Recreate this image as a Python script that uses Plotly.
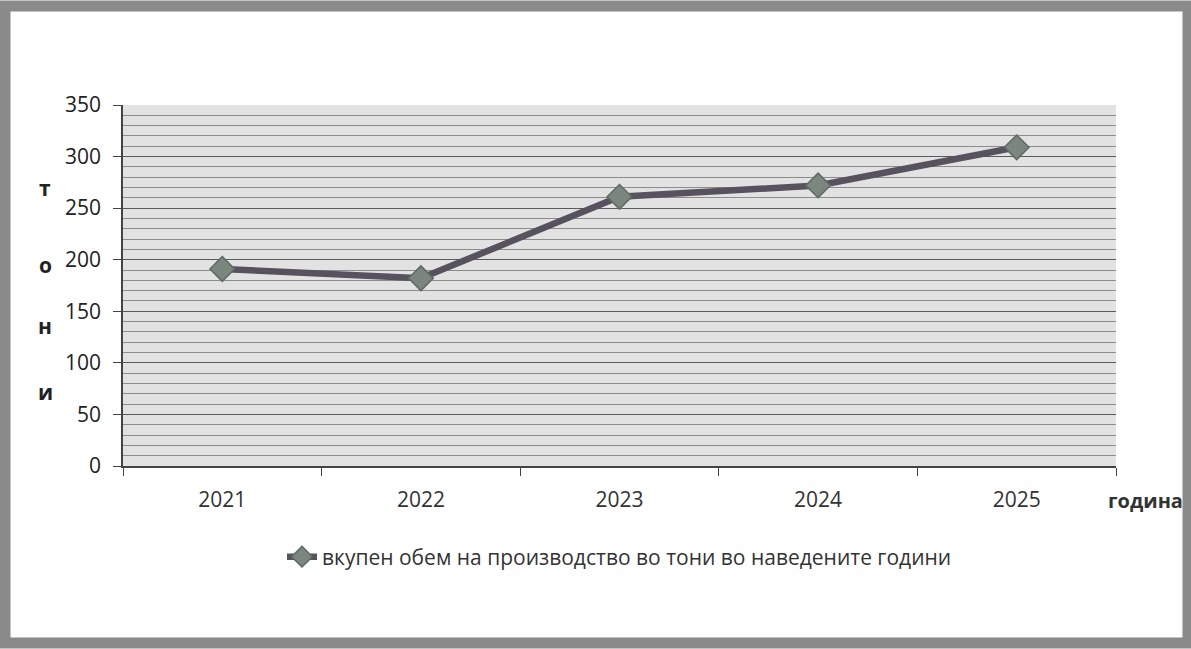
import plotly.graph_objects as go

years = ["2021", "2022", "2023", "2024", "2025"]
tonnes = [191, 182, 261, 272, 309]
series_name = "вкупен обем на производство во тони во наведените години"
y_letters = ["т", "о", "н", "и"]
y_letter_vals = [270, 195, 136, 72]
x_title = "година"

W, H = 1191, 649
L, R, T, B = 123, 75, 105, 183
pw, ph = W - L - R, H - T - B

def px_x(p):
    return (p - L) / pw

def px_y(p):
    return (H - B - p) / ph

font = "Open Sans, Liberation Sans, sans-serif"

fig = go.Figure()
fig.add_trace(go.Scatter(
    x=years, y=tonnes, mode="lines+markers", name=series_name,
    line=dict(color="#56525e", width=6.5),
    marker=dict(symbol="diamond", size=19, color="#7b867e",
                line=dict(color="#5f6a62", width=1.5)),
))

annotations = []
for letter, v in zip(y_letters, y_letter_vals):
    annotations.append(dict(x=px_x(45), y=v, xref="paper", yref="y", text=f"<b>{letter}</b>",
                            xanchor="center", yanchor="middle",
                            showarrow=False, font=dict(size=21, color="#222", family=font)))
annotations.append(dict(x=px_x(1145), y=px_y(500), xref="paper", yref="paper", text=f"<b>{x_title}</b>",
                        xanchor="center", yanchor="middle",
                        showarrow=False, font=dict(size=20, color="#333", family=font)))

shapes = [
    dict(type="rect", xref="paper", yref="paper",
         x0=px_x(5), x1=px_x(W - 3), y0=px_y(H - 6), y1=px_y(6),
         line=dict(color="#8a8a8a", width=11), layer="below"),
]

fig.update_layout(
    width=W, height=H,
    margin=dict(l=L, r=R, t=T, b=B),
    paper_bgcolor="white",
    plot_bgcolor="#e2e2e2",
    font=dict(family=font, size=21, color="#222"),
    showlegend=True,
    legend=dict(orientation="h", x=0.5, xanchor="center", y=px_y(557), yanchor="middle",
                font=dict(size=21, color="#333"), bgcolor="rgba(0,0,0,0)"),
    annotations=annotations,
    shapes=shapes,
    xaxis=dict(type="category", range=[-0.5, 4.5], tickson="boundaries", ticks="outside", ticklen=8,
               tickcolor="#444", showgrid=False, showline=True, linecolor="#444",
               linewidth=1.5, tickfont=dict(size=21, color="#333"), zeroline=False,
               ticklabelstandoff=14),
    yaxis=dict(range=[0, 350], dtick=50, ticks="outside", ticklen=8, tickcolor="#444",
               showline=True, linecolor="#444", linewidth=1.5,
               gridcolor="#5a5a5a", gridwidth=1.2, zeroline=False,
               minor=dict(dtick=10, showgrid=True, gridcolor="#8c8c8c", gridwidth=1),
               tickfont=dict(size=21, color="#222"), ticklabelstandoff=8),
)

fig.write_html("out.html")
